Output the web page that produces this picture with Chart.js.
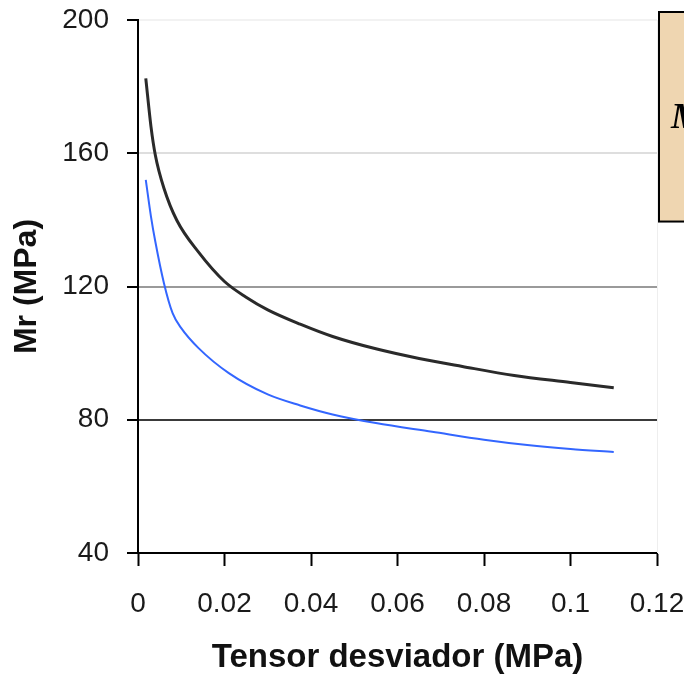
<!DOCTYPE html>
<html>
<head>
<meta charset="utf-8">
<script src="https://cdn.jsdelivr.net/npm/chart.js@4/dist/chart.umd.min.js"></script>
<style>
  html, body { margin: 0; padding: 0; background: #fff; overflow: hidden; }
  #wrap { width: 684px; height: 674px; }
</style>
</head>
<body>
<div id="wrap"><canvas id="chart"></canvas></div>
<script>
// values
const xTickValues = [0, 0.02, 0.04, 0.06, 0.08, 0.1, 0.12];
const yTickValues = [40, 80, 120, 160, 200];

const blackX = [0.0018, 0.003, 0.004, 0.006, 0.009, 0.014, 0.02, 0.025, 0.03, 0.0375, 0.045, 0.055, 0.065, 0.075, 0.087, 0.1, 0.11];
const blackY = [182.5, 168, 159.5, 149.5, 139.8, 130.3, 121.5, 116.8, 113, 108.7, 105, 101.3, 98.4, 96, 93.3, 91.2, 89.6];

const blueX = [0.0018, 0.003, 0.004, 0.006, 0.008, 0.01, 0.014, 0.021, 0.03, 0.0375, 0.045, 0.055, 0.068, 0.08, 0.09, 0.1, 0.11];
const blueY = [152, 141, 133.5, 121, 112, 107.5, 101.5, 94, 87.6, 84.3, 81.6, 79, 76.4, 74, 72.4, 71.2, 70.3];

const boxText = 'Mr';

const toPoints = (xs, ys) => xs.map((x, i) => ({ x, y: ys[i] }));

const gridColors = { 40: '#000000', 80: '#3a3a3a', 120: '#9a9a9a', 160: '#dedede', 200: '#f2f2f2' };

// faint right border + the equation box that sits past the plot's right edge
const extras = {
  id: 'extras',
  beforeDatasetsDraw(chart) {
    const { ctx, chartArea: a } = chart;
    ctx.save();
    ctx.strokeStyle = '#eeeeee';
    ctx.lineWidth = 1;
    ctx.beginPath();
    ctx.moveTo(a.right + 0.5, a.top);
    ctx.lineTo(a.right + 0.5, a.bottom);
    ctx.stroke();
    ctx.restore();
  },
  afterDraw(chart) {
    const { ctx, chartArea: a } = chart;
    const y = chart.scales.y;
    const left = a.right + 2;
    const top = a.top - 8;
    const bottom = y.getPixelForValue(139.5);
    ctx.save();
    ctx.fillStyle = '#efd6b1';
    ctx.fillRect(left, top, 60, bottom - top);
    ctx.strokeStyle = '#000';
    ctx.lineWidth = 2;
    ctx.strokeRect(left, top, 60, bottom - top);
    ctx.fillStyle = '#000';
    ctx.font = 'italic bold 36px "Liberation Serif", serif';
    ctx.textBaseline = 'alphabetic';
    ctx.fillText(boxText, left + 12, y.getPixelForValue(167.5));
    ctx.restore();
  }
};

new Chart(document.getElementById('chart'), {
  type: 'scatter',
  data: {
    datasets: [
      {
        data: toPoints(blueX, blueY),
        showLine: true,
        borderColor: '#3366ff',
        borderWidth: 2,
        pointRadius: 0,
        cubicInterpolationMode: 'monotone'
      },
      {
        data: toPoints(blackX, blackY),
        showLine: true,
        borderColor: '#2a2a2a',
        borderWidth: 3,
        pointRadius: 0,
        cubicInterpolationMode: 'monotone'
      }
    ]
  },
  options: {
    responsive: true,
    maintainAspectRatio: false,
    animation: false,
    layout: { padding: { left: 0, top: 20, right: 27, bottom: 0 } },
    plugins: {
      legend: { display: false },
      tooltip: { enabled: false }
    },
    scales: {
      x: {
        type: 'linear',
        min: 0,
        max: 0.12,
        afterBuildTicks: s => { s.ticks = xTickValues.map(v => ({ value: v })); },
        afterFit: s => { s.height = 121; s.paddingLeft = 0; s.paddingRight = 0; },
        border: { color: '#000', width: 2 },
        grid: { drawOnChartArea: false, tickLength: 13, tickColor: '#000', tickWidth: 2 },
        ticks: {
          padding: 21,
          color: '#1a1a1a',
          font: { family: '"Liberation Sans", Arial, sans-serif', size: 28 },
          callback: v => String(v)
        },
        title: {
          display: true,
          text: 'Tensor desviador (MPa)',
          color: '#111',
          font: { family: '"Liberation Sans", Arial, sans-serif', size: 33, weight: 'bold', lineHeight: 1 },
          padding: { top: 0, bottom: 0 }
        }
      },
      y: {
        type: 'linear',
        min: 40,
        max: 200,
        afterBuildTicks: s => { s.ticks = yTickValues.map(v => ({ value: v })); },
        afterFit: s => { s.width = 138; s.paddingTop = 0; s.paddingBottom = 0; },
        border: { color: '#000', width: 2 },
        grid: {
          color: c => gridColors[c.tick.value] || '#ddd',
          lineWidth: 2,
          tickLength: 11,
          tickColor: '#000',
          tickWidth: 2
        },
        ticks: {
          padding: 18,
          color: '#1a1a1a',
          font: { family: '"Liberation Sans", Arial, sans-serif', size: 28 },
          callback: v => String(v)
        },
        title: {
          display: true,
          text: 'Mr (MPa)',
          color: '#111',
          font: { family: '"Liberation Sans", Arial, sans-serif', size: 32, weight: 'bold', lineHeight: 1 },
          padding: { top: 11, bottom: 0 }
        }
      }
    }
  },
  plugins: [extras]
});
</script>
</body>
</html>
